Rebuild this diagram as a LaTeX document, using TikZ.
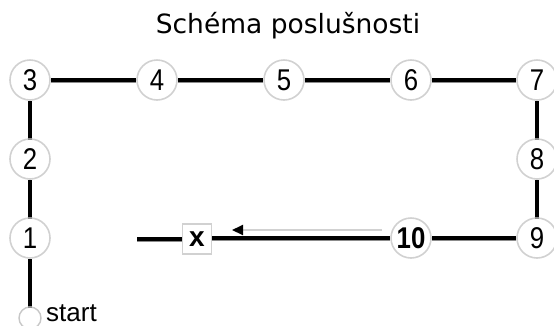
\documentclass[tikz,border=0pt]{standalone}
\usepackage{fontspec}
\setmainfont{Liberation Sans}
\newfontfamily\titlefont{DejaVu Sans}
\newfontfamily\numfont[FakeStretch=0.86]{Liberation Sans}
\usetikzlibrary{arrows.meta}
\tikzset{
  numnode/.style={circle, draw=black!18, line width=1.6pt, fill=white, minimum size=40pt, inner sep=0pt, font=\numfont\fontsize{30}{30}\selectfont},
  boxnode/.style={rectangle, draw=black!18, line width=1.4pt, fill=white, minimum width=29pt, minimum height=30pt, inner sep=0pt, font=\fontsize{28}{28}\selectfont\bfseries},
  startnode/.style={circle, draw=black!22, line width=1.4pt, fill=white, minimum size=22pt, inner sep=0pt},
  path/.style={line width=3.6pt, black, preaction={draw, line width=3.6pt, black!45, transform canvas={yshift=-1.4pt}}},
  hint/.style={line width=2pt, black!18, -{Triangle[length=11pt, width=10pt, color=black, fill=black]}}
}
\begin{document}
\begin{tikzpicture}[x=1pt, y=-1pt]
\useasboundingbox (0,0) rectangle (554,325);
\clip (0,0) rectangle (554,325);
\node[font=\titlefont\fontsize{26.5}{26.5}\selectfont, anchor=base] (title) at (288,33) {Schéma poslušnosti};
% nodes
\node[numnode] (n3) at (30,80) {3};
\node[numnode] (n4) at (157,80) {4};
\node[numnode] (n5) at (284,80) {5};
\node[numnode] (n6) at (411,80) {6};
\node[numnode] (n7) at (537,80) {7};
\node[numnode] (n2) at (30,159) {2};
\node[numnode] (n8) at (537,159) {8};
\node[numnode] (n1) at (30,238) {1};
\node[numnode] (n9) at (537,238) {9};
\node[numnode, font=\numfont\fontsize{30}{30}\selectfont\bfseries] (n10) at (411,238) {10};
\node[boxnode] (bx) at (197,239) {x};
\node[startnode] (st) at (30,318) {};
\node[anchor=base west, font=\fontsize{26}{26}\selectfont, inner sep=0pt] (sttext) at (46,321) {start};
\coordinate (lend) at (137,239);
\coordinate (atail) at (382,230);
\coordinate (ahead) at (232,230);
% connectors
\draw[path] (st) -- (n1);
\draw[path] (n1) -- (n2);
\draw[path] (n2) -- (n3);
\draw[path] (n3) -- (n4);
\draw[path] (n4) -- (n5);
\draw[path] (n5) -- (n6);
\draw[path] (n6) -- (n7);
\draw[path] (n7) -- (n8);
\draw[path] (n8) -- (n9);
\draw[path] (n9) -- (n10);
\draw[path] (n10.west) -- (bx.east |- n10.west);
\draw[path] (bx.west |- lend) -- (lend);
\draw[hint] (atail) -- (ahead);
\end{tikzpicture}
\end{document}
